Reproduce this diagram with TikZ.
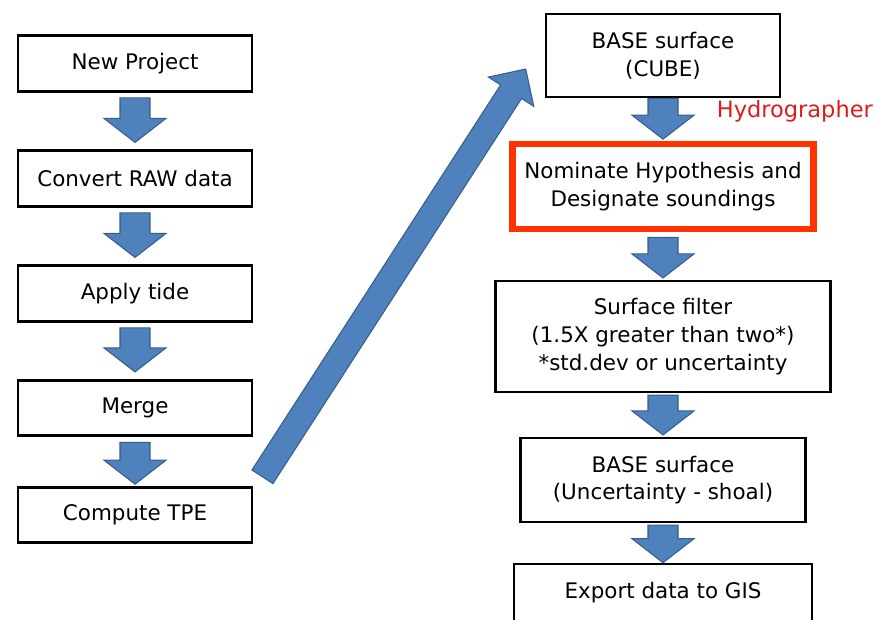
\documentclass[tikz,border=0pt]{standalone}
\usepackage{fontspec}
\setmainfont{DejaVu Sans}
\usepackage{xcolor}
\usetikzlibrary{calc, positioning}

\definecolor{arrowblue}{HTML}{4F81BD}
\definecolor{arrowedge}{HTML}{385D8A}
\definecolor{hydrored}{HTML}{FF3300}
\definecolor{labelred}{HTML}{DD1C1A}

\newcommand{\boxfont}{\fontsize{12.2}{15.8}\selectfont}
\newcommand{\blockarrow}[5]{%
  \path (#1) coordinate (ba-s) (#2) coordinate (ba-t);
  \path ($(ba-t)!#5!(ba-s)$) coordinate (ba-h);
  \filldraw[fill=arrowblue, draw=arrowedge, line width=0.6pt, line join=miter]
    ($(ba-s)!#3!90:(ba-t)$) -- ($(ba-h)!#3!90:(ba-t)$) -- ($(ba-h)!#4!90:(ba-t)$)
    -- (ba-t) -- ($(ba-h)!#4!-90:(ba-t)$) -- ($(ba-h)!#3!-90:(ba-t)$)
    -- ($(ba-s)!#3!-90:(ba-t)$) -- cycle;
}
\newcommand{\flowarrow}[2]{\blockarrow{#1}{#2}{0.3cm}{0.62cm}{0.48cm}}

\tikzset{
  stepbox/.style={rectangle, draw, line width=1.5pt, fill=white, align=center, font=\boxfont, inner sep=2pt},
  leftbox/.style={stepbox, minimum width=4.68cm, minimum height=1.11cm},
}

\begin{document}
\begin{tikzpicture}[x=0.02cm, y=-0.02cm]
    \useasboundingbox (0,0) rectangle (882,619);

    \node (np) [leftbox] at (135,63.5) {New Project};
    \node (cr) [leftbox] at (135,178.5) {Convert RAW data};
    \node (at) [leftbox] at (135,293.5) {Apply tide};
    \node (mg) [leftbox] at (135,408) {Merge};
    \node (tpe) [leftbox] at (135,515) {Compute TPE};

    \node (cube) [stepbox, minimum width=4.68cm, minimum height=1.66cm] at (663,55.5) {BASE surface\\(CUBE)};
    \node (nom) [stepbox, draw=hydrored, line width=3.5pt, minimum width=6.02cm, minimum height=1.7cm] at (663,186.5) {Nominate Hypothesis and\\Designate soundings};
    \node (role) [anchor=base east, text=labelred, font=\fontsize{12.8}{15}\selectfont] at (879,117) {Hydrographer};
    \node (filt) [stepbox, minimum width=6.7cm, minimum height=2.22cm] at (663,336.5) {Surface filter\\(1.5X greater than two*)\\*std.dev or uncertainty};
    \node (shoal) [stepbox, minimum width=5.7cm, minimum height=1.68cm] at (663,480) {BASE surface\\(Uncertainty - shoal)};
    \node (gis) [stepbox, minimum width=5.96cm, minimum height=1.16cm] at (663,593) {Export data to GIS};

    \flowarrow{[yshift=-3pt]np.south}{[yshift=4pt]cr.north}
    \flowarrow{[yshift=-3pt]cr.south}{[yshift=4pt]at.north}
    \flowarrow{[yshift=-3pt]at.south}{[yshift=4pt]mg.north}
    \flowarrow{[yshift=-3pt]mg.south}{[yshift=1pt]tpe.north}

    \flowarrow{cube.south}{[yshift=1pt]nom.north}
    \flowarrow{[yshift=-3pt]nom.south}{[yshift=1pt]filt.north}
    \flowarrow{[yshift=-1pt]filt.south}{[yshift=1pt]shoal.north}
    \flowarrow{[yshift=-1pt]shoal.south}{gis.north}

    \blockarrow{[xshift=5.2pt, yshift=5.2pt]tpe.north east}{[xshift=-10.8pt, yshift=-7.7pt]cube.west}{0.25cm}{0.54cm}{0.54cm}
\end{tikzpicture}
\end{document}
